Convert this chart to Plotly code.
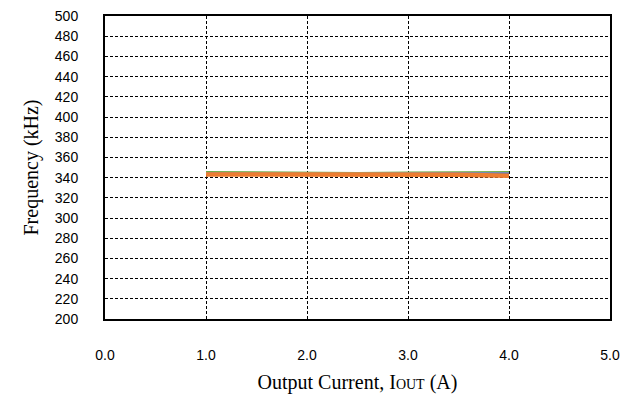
import plotly.graph_objects as go

x_current = [1.0, 1.5, 2.0, 2.5, 3.0, 3.5, 4.0]
freq_green = [345.5, 345.0, 344.5, 344.5, 345.0, 345.5, 345.5]
freq_gray = [344.5, 344.0, 344.0, 344.0, 344.5, 344.5, 344.5]
freq_blue = [344.0, 343.5, 343.5, 343.5, 344.0, 344.0, 344.0]
freq_orange = [343.0, 343.0, 342.8, 343.2, 343.5, 342.8, 341.8]

x_ticks = [0, 1, 2, 3, 4, 5]
x_ticklabels = ["0.0", "1.0", "2.0", "3.0", "4.0", "5.0"]
y_ticks = list(range(200, 501, 20))

fig = go.Figure()
series = [
    (freq_green, "#70AD47", 2.2),
    (freq_gray, "#A5A5A5", 2.2),
    (freq_blue, "#4472C4", 2.2),
    (freq_orange, "#ED7D31", 4.5),
]
for ys, col, w in series:
    fig.add_trace(go.Scatter(x=x_current, y=ys, mode="lines",
                             line=dict(color=col, width=w), showlegend=False))

axis_common = dict(
    showgrid=True, gridcolor="black", gridwidth=1, griddash="3px,2px",
    showline=True, linecolor="black", linewidth=2, mirror=True,
    zeroline=False, ticks="", automargin=False, ticklabeloverflow="allow",
    tickfont=dict(family="Liberation Sans, Arial, sans-serif", size=14, color="black"),
)

fig.update_layout(
    width=630, height=392,
    margin=dict(l=97, r=28, t=8, b=81),
    paper_bgcolor="white", plot_bgcolor="white",
    xaxis=dict(range=[0, 5], tickvals=x_ticks, ticktext=x_ticklabels,
               ticklabelstandoff=22,
               title=dict(text='Output Current, I<span style="font-size:14px">OUT</span> (A)',
                          font=dict(family="Liberation Serif, Times New Roman, serif", size=20, color="black"),
                          standoff=13),
               **axis_common),
    yaxis=dict(range=[200, 500], tickvals=y_ticks,
               ticklabelstandoff=22,
               title=dict(text="Frequency (kHz)",
                          font=dict(family="Liberation Serif, Times New Roman, serif", size=20, color="black"),
                          standoff=11),
               **axis_common),
)

fig.write_html("out.html")
